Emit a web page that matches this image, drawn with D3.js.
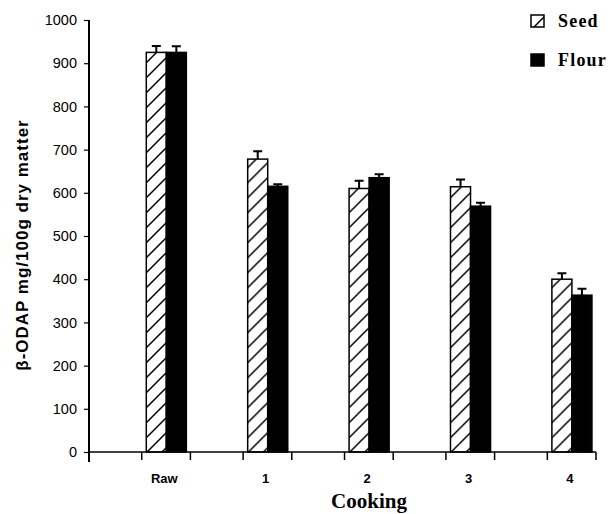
<!DOCTYPE html>
<html>
<head>
<meta charset="utf-8">
<script src="https://cdn.jsdelivr.net/npm/d3@7/dist/d3.min.js"></script>
<style>
  html, body { margin: 0; padding: 0; background: #fff; }
  svg { display: block; }
</style>
</head>
<body>
<script>
const categories = ["Raw", "1", "2", "3", "4"];
const seriesNames = ["Seed", "Flour"];
const seedValues = [925, 678, 610, 614, 400];
const seedErrors = [15, 18, 18, 17, 14];
const flourValues = [925, 615, 635, 569, 363];
const flourErrors = [14, 5, 8, 8, 15];
const yTicks = [0, 100, 200, 300, 400, 500, 600, 700, 800, 900, 1000];

const W = 610, H = 514;
const svg = d3.select("body").append("svg").attr("width", W).attr("height", H);

const defs = svg.append("defs");
const pat = defs.append("pattern")
  .attr("id", "hatch").attr("patternUnits", "userSpaceOnUse")
  .attr("width", 15).attr("height", 15);
pat.append("rect").attr("width", 15).attr("height", 15).attr("fill", "#fff");
pat.append("path")
  .attr("d", "M0,15 L15,0 M-3,3 L3,-3 M12,18 L18,12")
  .attr("stroke", "#000").attr("stroke-width", 1.5);

const x = d3.scaleBand().domain(categories).range([89, 596]).padding(0);
const xs = d3.scaleBand().domain(seriesNames).range([x.step() * 0.565, x.step() * 0.96]).padding(0);
const y = d3.scaleLinear().domain([0, 1000]).range([452, 20]);

const data = categories.map((c, i) => ({
  cat: c,
  vals: [
    { s: "Seed", v: seedValues[i], e: seedErrors[i] },
    { s: "Flour", v: flourValues[i], e: flourErrors[i] }
  ]
}));

// Y axis
const yAxis = d3.axisLeft(y).tickValues(yTicks).tickFormat(d3.format("d")).tickSize(5).tickPadding(7);
const gy = svg.append("g").attr("transform", "translate(89,0)").call(yAxis);
gy.select(".domain").remove();
gy.selectAll(".tick line").attr("stroke", "#000").attr("stroke-width", 1.2);
gy.selectAll(".tick text")
  .attr("font-family", "Liberation Sans, Arial, sans-serif")
  .attr("font-size", 14.5).attr("fill", "#000");
svg.append("line").attr("x1", 89).attr("x2", 89).attr("y1", y(1000)).attr("y2", y(0) + 10)
  .attr("stroke", "#000").attr("stroke-width", 2);

// Bars
const groups = svg.append("g").selectAll("g").data(data).join("g")
  .attr("transform", d => `translate(${x(d.cat)},0)`);

groups.selectAll("rect").data(d => d.vals).join("rect")
  .attr("x", d => xs(d.s))
  .attr("width", xs.bandwidth())
  .attr("y", d => y(d.v))
  .attr("height", d => y(0) - y(d.v))
  .attr("fill", d => d.s === "Seed" ? "url(#hatch)" : "#000")
  .attr("stroke", "#000").attr("stroke-width", 1.5);

// Error bars
groups.selectAll("path.err").data(d => d.vals).join("path")
  .attr("class", "err")
  .attr("d", d => {
    const cx = xs(d.s) + xs.bandwidth() / 2;
    const y0 = y(d.v), y1 = y(d.v + d.e);
    return `M${cx},${y0}V${y1}M${cx - 4.5},${y1}H${cx + 4.5}`;
  })
  .attr("fill", "none").attr("stroke", "#000").attr("stroke-width", 2);

// X axis
svg.append("line").attr("x1", 89).attr("x2", 596).attr("y1", y(0)).attr("y2", y(0))
  .attr("stroke", "#000").attr("stroke-width", 1.5);
const tickPos = [];
categories.forEach(c => {
  tickPos.push(x(c) + x.step() * 0.52);
  tickPos.push(x(c) + x.step());
});
svg.append("g").selectAll("line").data(tickPos).join("line")
  .attr("x1", d => d).attr("x2", d => d)
  .attr("y1", y(0)).attr("y2", y(0) + 8)
  .attr("stroke", "#000").attr("stroke-width", 1.5);

svg.append("g").selectAll("text").data(categories).join("text")
  .attr("x", c => x(c) + xs.range()[0] + (xs.range()[1] - xs.range()[0]) / 2 - 2)
  .attr("y", 483)
  .attr("text-anchor", "middle")
  .attr("font-family", "Liberation Sans, Arial, sans-serif")
  .attr("font-weight", "bold").attr("font-size", 13)
  .text(c => c);

// Axis titles
svg.append("text")
  .attr("x", 369).attr("y", 508)
  .attr("text-anchor", "middle")
  .attr("font-family", "Liberation Serif, Times New Roman, serif")
  .attr("font-weight", "bold").attr("font-size", 21)
  .text("Cooking");

svg.append("text")
  .attr("transform", "translate(28,245) rotate(-90)")
  .attr("text-anchor", "middle")
  .attr("font-family", "Liberation Sans, Arial, sans-serif")
  .attr("font-weight", "bold").attr("font-size", 17)
  .attr("letter-spacing", 1)
  .text("β-ODAP mg/100g dry matter");

// Legend
const legend = svg.append("g").selectAll("g").data(seriesNames).join("g")
  .attr("transform", (d, i) => `translate(531,${15 + i * 39})`);
legend.append("rect")
  .attr("width", 13).attr("height", 12)
  .attr("fill", d => d === "Seed" ? "url(#hatch)" : "#000")
  .attr("stroke", "#000").attr("stroke-width", 1.5);
legend.append("text")
  .attr("x", 27).attr("y", 12)
  .attr("font-family", "Liberation Serif, Times New Roman, serif")
  .attr("font-weight", "bold").attr("font-size", 18)
  .attr("letter-spacing", 1.2)
  .text(d => d);
</script>
</body>
</html>
